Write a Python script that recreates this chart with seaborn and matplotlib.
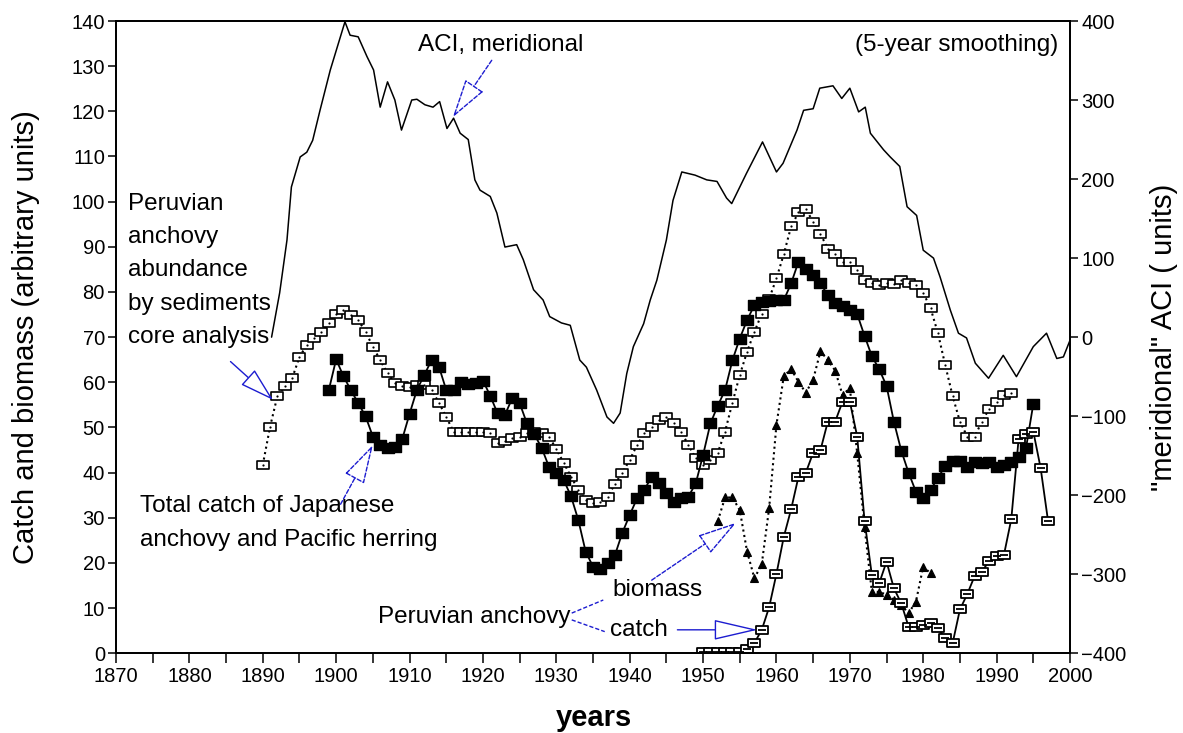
import numpy as np
import pandas as pd
import matplotlib
matplotlib.use("Agg")
import matplotlib.pyplot as plt
import seaborn as sns
from matplotlib.ticker import MultipleLocator
from matplotlib.path import Path

sns.set_style("ticks")
plt.rcParams['font.family'] = ['Liberation Sans', 'DejaVu Sans']
for k in ['text.color', 'axes.labelcolor', 'xtick.color', 'ytick.color', 'axes.edgecolor']:
    plt.rcParams[k] = 'black'

# ---------------- data ----------------
aci_years = [1891.2, 1892.3, 1893.3, 1893.9, 1895.1, 1896.0, 1896.8, 1897.8, 1899.2, 1901.2,
             1901.9, 1903.0, 1904.2, 1905.1, 1906.0, 1907.0, 1908.0, 1908.9, 1910.3, 1911.0,
             1912.1, 1913.2, 1914.1, 1915.1, 1916.0, 1916.9, 1918.0, 1918.9, 1919.6, 1921.0,
             1921.9, 1923.0, 1924.6, 1925.5, 1926.9, 1928.2, 1929.1, 1930.7, 1931.9, 1933.2,
             1934.1, 1935.5, 1936.9, 1937.8, 1938.7, 1939.6, 1940.5, 1941.9, 1942.8, 1943.7,
             1945.0, 1945.9, 1947.1, 1948.9, 1950.5, 1951.9, 1953.2, 1953.9, 1955.9, 1958.1,
             1960.0, 1960.9, 1962.8, 1963.7, 1965.0, 1965.9, 1967.7, 1968.9, 1970.0, 1971.2,
             1972.1, 1972.8, 1974.6, 1975.5, 1976.8, 1977.8, 1979.1, 1980.0, 1981.4, 1982.3,
             1983.7, 1984.8, 1985.9, 1987.1, 1988.9, 1990.9, 1992.7, 1995.0, 1996.8, 1998.2,
             1999.1, 2000.0]
aci_values = [0, 56, 123, 190, 228, 234, 249, 287, 338, 399,
              382, 380, 355, 338, 291, 323, 300, 262, 300, 301,
              294, 291, 298, 264, 277, 258, 250, 199, 186, 178,
              157, 114, 117, 98, 60, 47, 26, 18, 15, -29,
              -38, -67, -101, -109, -96, -46, -12, 17, 47, 72,
              123, 173, 209, 205, 199, 197, 176, 169, 207, 247,
              209, 220, 262, 287, 289, 315, 318, 302, 315, 285,
              291, 258, 237, 228, 216, 165, 154, 110, 100, 76,
              34, 5, -1, -33, -52, -23, -50, -12, 5, -27,
              -25, -4]

sediment_years = list(range(1890, 1993))
sediment_values = [41.7, 50.2, 57.0, 59.2, 60.9, 65.6, 68.3, 69.8, 71.2, 73.1,
                   75.1, 76.0, 74.8, 73.8, 71.2, 67.9, 64.9, 62.0, 59.8, 59.2,
                   59.0, 59.3, 59.5, 58.3, 55.5, 52.3, 49.1, 49.1, 49.1, 49.1,
                   49.1, 48.8, 46.5, 46.9, 47.6, 48.0, 48.7, 49.1, 48.7, 48.0,
                   45.2, 42.2, 39.1, 36.2, 33.9, 33.2, 33.6, 34.7, 37.5, 40.0,
                   42.8, 46.1, 48.7, 50.2, 51.7, 52.3, 50.9, 49.1, 46.1, 43.2,
                   41.7, 42.8, 44.4, 49.1, 55.5, 61.6, 66.8, 71.2, 75.2, 78.5,
                   83.0, 88.4, 94.5, 97.6, 98.3, 95.6, 92.8, 89.6, 88.5, 86.7,
                   86.7, 84.9, 82.6, 81.9, 81.5, 81.9, 81.7, 82.6, 82.1, 81.5,
                   79.8, 76.4, 70.9, 63.8, 57.0, 51.3, 48.0, 48.0, 51.3, 54.2,
                   55.7, 57.2, 57.7]

japan_years = list(range(1899, 1996))
japan_values = [58.3,
                65.1, 61.3, 58.3, 55.4, 52.5, 48.0, 46.1, 45.4, 45.7, 47.4,
                53.0, 58.3, 61.6, 64.9, 63.5, 58.3, 58.3, 60.1, 59.6, 59.8,
                60.4, 57.0, 53.1, 52.8, 56.5, 55.4, 50.9, 48.5, 45.5, 41.3,
                39.9, 38.4, 34.8, 29.5, 22.5, 19.2, 18.6, 19.9, 21.8, 26.7,
                30.6, 34.3, 36.2, 39.1, 37.6, 35.4, 33.6, 34.3, 34.7, 37.6,
                43.9, 50.9, 54.8, 58.3, 64.9, 69.7, 73.8, 77.1, 77.8, 78.1,
                78.2, 78.2, 81.9, 86.7, 85.0, 83.8, 81.9, 79.3, 77.5, 76.8,
                76.1, 75.1, 70.3, 65.8, 62.9, 59.2, 51.3, 44.9, 40.0, 35.8,
                34.3, 36.2, 38.8, 41.5, 42.6, 42.6, 41.3, 42.4, 42.1, 42.4,
                41.3, 41.7, 42.4, 43.5, 45.4, 55.2]

catch_years = list(range(1950, 1998))
catch_values = [0.3, 0.3, 0.3, 0.3, 0.3, 0.3, 1.0, 2.3, 5.2, 10.2,
                17.6, 25.8, 31.9, 39.1, 40.0, 44.4, 45.0, 51.3, 51.3, 55.7,
                55.7, 48.0, 29.4, 17.3, 15.5, 20.3, 14.4, 11.1, 5.9, 5.9,
                6.3, 6.6, 5.5, 3.3, 2.2, 9.7, 13.1, 17.1, 18.1, 20.5,
                21.5, 21.8, 29.7, 47.5, 48.5, 49.1, 41.0, 29.4]

biomass_years = list(range(1952, 1982))
biomass_values = [29.3, 34.5, 34.5, 31.7, 22.5, 16.6, 19.8, 32.1,
                  50.6, 61.4, 62.9, 60.1, 57.7, 60.6, 66.9, 64.9, 62.6, 57.2,
                  58.7, 44.3, 28.0, 13.6, 13.6, 13.0, 11.8, 10.7, 8.9, 11.4,
                  19.2, 17.7]

x_ticks = list(range(1870, 2001, 10))

# ---------------- figure ----------------
fig = plt.figure(figsize=(11.83, 7.33), dpi=100)
ax = fig.add_axes([0.09806, 0.10873, 0.80642, 0.86262])
ax2 = ax.twinx()

rect = Path([(-1.25, -1), (1.25, -1), (1.25, 1), (-1.25, 1), (-1.25, -1)],
            [Path.MOVETO, Path.LINETO, Path.LINETO, Path.LINETO, Path.CLOSEPOLY])

common = dict(ax=ax, color='black', estimator=None, legend=False)

# sediment core (open squares, dotted)
sns.lineplot(x=sediment_years, y=sediment_values, linestyle=':', linewidth=1.5,
             marker=rect, markersize=8, markerfacecolor='white',
             markeredgecolor='black', markeredgewidth=1.2, **common)
sns.lineplot(x=sediment_years, y=sediment_values, linestyle='none', marker='o',
             markersize=1.6, markerfacecolor='black', markeredgecolor='black',
             markeredgewidth=0, zorder=3, **common)

# Japanese anchovy + Pacific herring (filled squares, solid)
sns.lineplot(x=japan_years, y=japan_values, linestyle='-', linewidth=1.3,
             marker=rect, markersize=8.6, markerfacecolor='black',
             markeredgecolor='black', markeredgewidth=1.0, **common)

# Peruvian anchovy biomass (triangles, dotted)
sns.lineplot(x=biomass_years, y=biomass_values, linestyle=':', linewidth=1.5,
             marker='^', markersize=5.5, markerfacecolor='black',
             markeredgecolor='black', markeredgewidth=0.8, **common)

# Peruvian anchovy catch (open boxed squares, solid)
sns.lineplot(x=catch_years, y=catch_values, linestyle='-', linewidth=1.3,
             marker=rect, markersize=8, markerfacecolor='white',
             markeredgecolor='black', markeredgewidth=1.3, **common)
sns.lineplot(x=catch_years, y=catch_values, linestyle='none', marker='_',
             markersize=5.5, markeredgecolor='black', markeredgewidth=1.3,
             zorder=3, **common)

# ACI meridional (right axis)
sns.lineplot(x=aci_years, y=aci_values, ax=ax2, color='black', linewidth=1.1,
             estimator=None, legend=False)

# ---------------- axes ----------------
ax.set_xlim(1870, 2000)
ax.set_ylim(0, 140)
ax2.set_ylim(-400, 400)
ax.set_xticks(x_ticks)
ax.xaxis.set_minor_locator(MultipleLocator(5))
ax.yaxis.set_major_locator(MultipleLocator(10))
ax2.yaxis.set_major_locator(MultipleLocator(100))

ax.tick_params(axis='x', which='both', direction='out', length=7, width=1.1,
               labelsize=14.5, pad=3)
ax.tick_params(axis='y', direction='out', length=6, width=1.1, labelsize=14.5, pad=2)
ax2.tick_params(axis='y', direction='out', length=6, width=1.1, labelsize=14.5, pad=2)
for a in (ax, ax2):
    for s in a.spines.values():
        s.set_linewidth(1.3)
        s.set_color('black')

ax.set_ylabel("Catch and biomass (arbitrary units)", fontsize=21)
ax.yaxis.set_label_coords(-0.08, 0.5)
ax2.set_ylabel('"meridional" ACI ( units)', fontsize=21)
ax2.yaxis.set_label_coords(1.084, 0.5)
ax.set_xlabel("years", fontsize=21, fontweight='bold')
ax.xaxis.set_label_coords(0.501, -0.080)

# ---------------- annotations ----------------
blue = '#1c1cd0'
fs = 17.5


def arrow(tail, tip, dashed=True, hl=2.5, hw=0.7):
    ax.annotate('', xy=tip, xytext=tail, xycoords='data', textcoords='data',
                arrowprops=dict(arrowstyle=f'-|>,head_length={hl},head_width={hw}',
                                mutation_scale=10, fc='white', ec=blue, lw=1.0,
                                linestyle=(0, (3, 1.5)) if dashed else '-',
                                shrinkA=0, shrinkB=0))


ax.text(1911.2, 134.7, "ACI, meridional", fontsize=fs, ha='left', va='center')
arrow((1921.2, 131.3), (1915.9, 118.7))
ax.text(1998.4, 134.7, "(5-year smoothing)", fontsize=fs, ha='right', va='center')

ax.text(1871.6, 84.8, "Peruvian\nanchovy\nabundance\nby sediments\ncore analysis",
        fontsize=fs, ha='left', va='center', linespacing=1.66)
arrow((1885.6, 64.6), (1891.4, 56.1), dashed=False, hl=2.2, hw=0.65)

ax.text(1873.3, 28.9, "Total catch of Japanese\nanchovy and Pacific herring",
        fontsize=fs, ha='left', va='center', linespacing=1.7)
arrow((1900.6, 33.0), (1905.0, 46.1))

ax.text(1937.6, 14.0, "biomass", fontsize=fs, ha='left', va='center')
arrow((1943.0, 16.2), (1954.5, 28.9))

ax.text(1931.9, 8.1, "Peruvian anchovy", fontsize=fs, ha='right', va='center')
ax.plot([1932.1, 1936.4], [8.9, 11.8], color=blue, lw=1.0, ls=(0, (3, 1.5)))
ax.plot([1932.1, 1936.6], [7.4, 4.8], color=blue, lw=1.0, ls=(0, (3, 1.5)))

ax.text(1937.3, 5.2, "catch", fontsize=fs, ha='left', va='center')
arrow((1946.5, 5.2), (1957.4, 5.2), dashed=False, hl=2.8, hw=0.65)

fig.savefig("out.png", dpi=100)
